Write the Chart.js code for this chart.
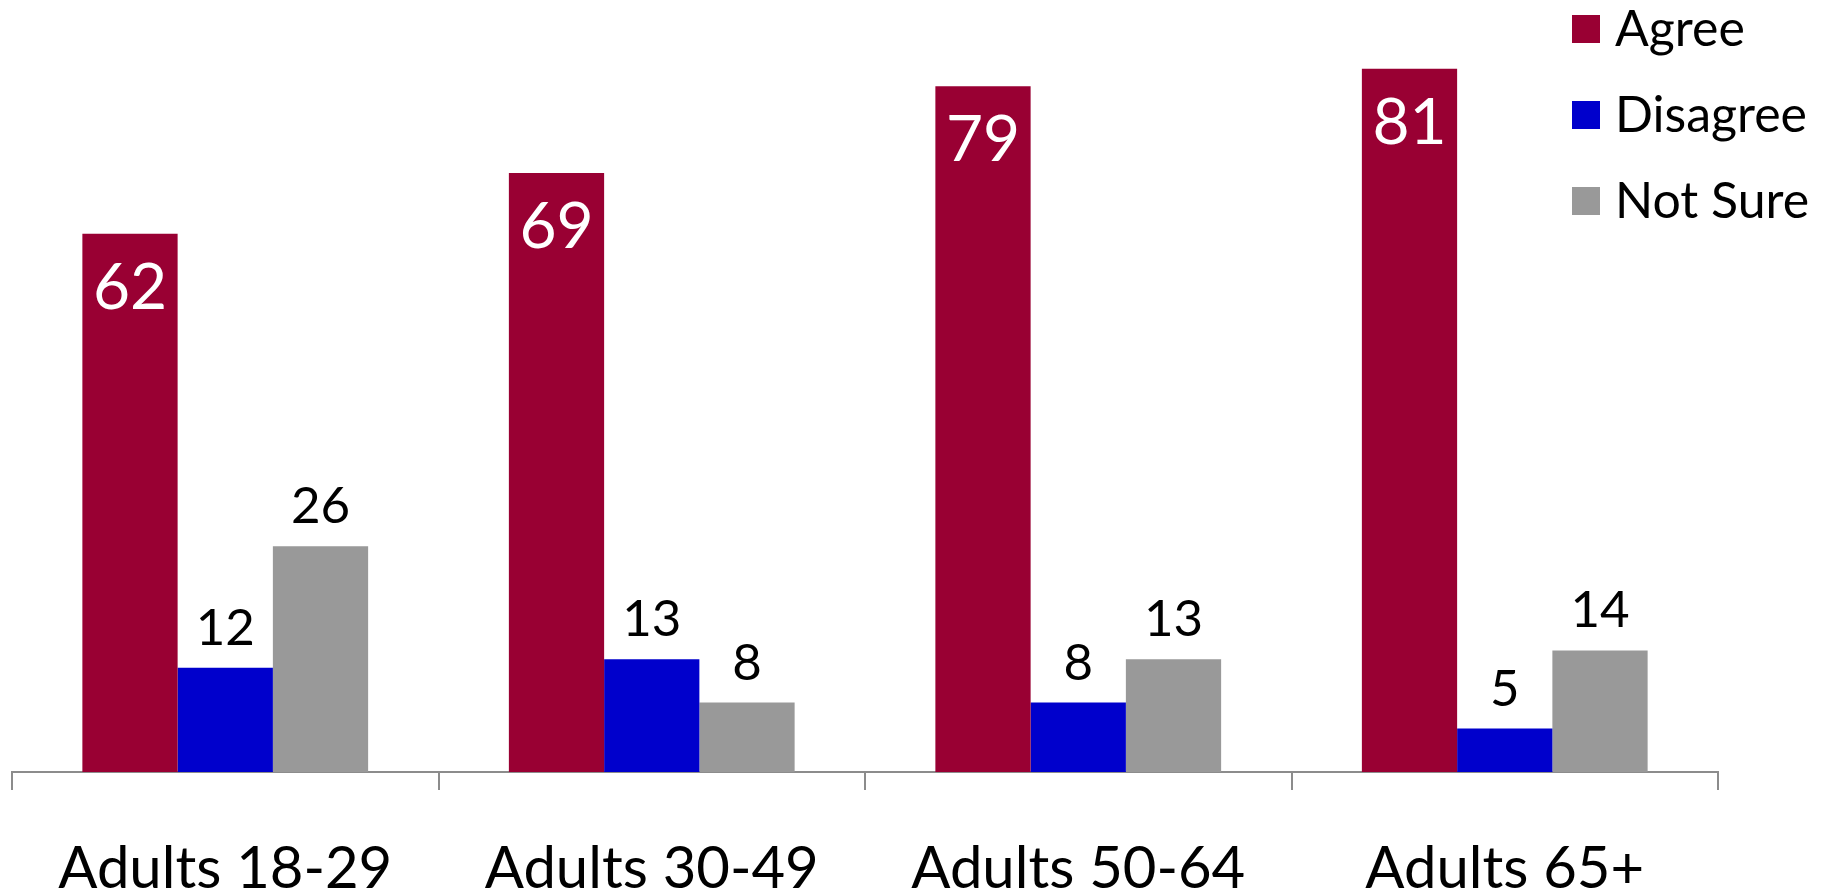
<!DOCTYPE html>
<html>
<head>
<meta charset="utf-8">
<script src="https://cdn.jsdelivr.net/npm/chart.js@4"></script>
<style>
    html, body { margin: 0; padding: 0; background: #fff; }
    #wrap { width: 1832px; height: 891px; }
</style>
</head>
<body>
<div id="wrap"><canvas id="my_chart"></canvas></div>
<script>
let categories = ["Adults 18-29", "Adults 30-49", "Adults 50-64", "Adults 65+"]
let agree = [62, 69, 79, 81]
let disagree = [12, 13, 8, 5]
let not_sure = [26, 8, 13, 14]
let series_names = ["Agree", "Disagree", "Not Sure"]
let series_colors = ["#990033", "#0000cc", "#999999"]

let font_family = "Lato, 'Open Sans', sans-serif"

// value labels: white inside the Agree bars, black above the others
let value_labels = {
    id: "value_labels",
    afterDatasetsDraw(chart) {
        let ctx = chart.ctx
        ctx.save()
        ctx.textAlign = "center"
        ctx.textBaseline = "alphabetic"
        chart.data.datasets.forEach((ds, i) => {
            let meta = chart.getDatasetMeta(i)
            meta.data.forEach((bar, j) => {
                let v = ds.data[j]
                if (i == 0) {
                    ctx.fillStyle = "#ffffff"
                    ctx.font = "64px " + font_family
                    ctx.fillText(v, bar.x, bar.y + 75)
                } else {
                    ctx.fillStyle = "#000000"
                    ctx.font = "51px " + font_family
                    ctx.fillText(v, bar.x, bar.y - 23)
                }
            })
        })
        ctx.restore()
    }
}

// legend drawn in the top right corner, over the plot area
let side_legend = {
    id: "side_legend",
    afterDraw(chart) {
        let ctx = chart.ctx
        ctx.save()
        ctx.font = "50px " + font_family
        ctx.textBaseline = "alphabetic"
        ctx.textAlign = "left"
        chart.data.datasets.forEach((ds, i) => {
            let top = 15 + i * 86
            ctx.fillStyle = ds.backgroundColor
            ctx.fillRect(1572, top, 28, 28)
            ctx.fillStyle = "#000000"
            ctx.fillText(ds.label, 1615, top + 31)
        })
        ctx.restore()
    }
}

let my_chart = document.querySelector("#my_chart")
let myBarChart = new Chart(my_chart, {
    type: "bar",
    data: {
        labels: categories,
        datasets: [
            { label: series_names[0], data: agree, backgroundColor: series_colors[0] },
            { label: series_names[1], data: disagree, backgroundColor: series_colors[1] },
            { label: series_names[2], data: not_sure, backgroundColor: series_colors[2] }
        ]
    },
    options: {
        responsive: true,
        maintainAspectRatio: false,
        animation: false,
        categoryPercentage: 0.67,
        barPercentage: 1.0,
        layout: { padding: { left: 12, right: 114, top: 8, bottom: 0 } },
        plugins: {
            legend: { display: false },
            tooltip: { enabled: false }
        },
        scales: {
            y: {
                display: false,
                min: 0,
                max: 88
            },
            x: {
                afterFit(axis) { axis.height = 119 },
                grid: {
                    offset: true,
                    drawOnChartArea: false,
                    drawTicks: true,
                    tickLength: 18,
                    color: "#8c8c8c",
                    lineWidth: 2
                },
                border: { display: true, color: "#8c8c8c", width: 2 },
                ticks: {
                    color: "#000000",
                    padding: 44,
                    maxRotation: 0,
                    font: { family: font_family, size: 58 }
                }
            }
        }
    },
    plugins: [value_labels, side_legend]
})
</script>
</body>
</html>
